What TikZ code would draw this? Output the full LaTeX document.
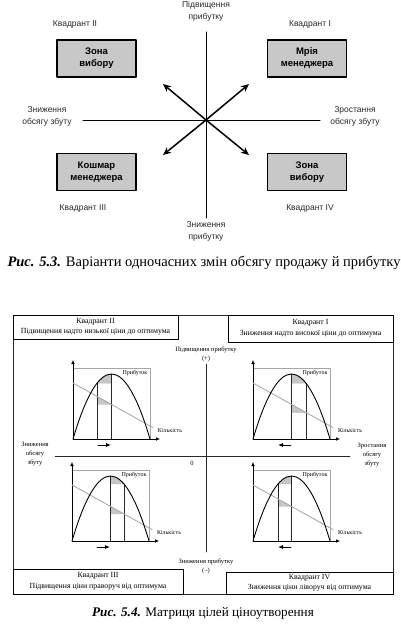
\documentclass[tikz,border=0pt]{standalone}
\usepackage{fontspec}
\setmainfont{Liberation Serif}
\setsansfont{Liberation Sans}
\usetikzlibrary{arrows.meta}
\definecolor{boxgray}{RGB}{200,200,200}
\definecolor{inkgray}{RGB}{40,40,40}

% one small price chart: name, x, y, first line, second line, arrow style
\newcommand{\pricechart}[6]{%
  \begin{scope}[shift={(#2,#3)}]
    \fill[shadearea] (#4,{max(parab(#4),parab(#5))}) -- (#4,{parab(#4)}) -- ({(#4+#5)/2},{parab((#4+#5)/2)}) -- (#5,{parab(#5)}) -- (#5,{max(parab(#4),parab(#5))}) -- cycle;
    \fill[shadearea] (#4,{dem(#4)}) -- (#5,{dem(#5)}) -- (#4,{dem(#5)}) -- cycle;
    \draw[chartframe] (0,0) rectangle (77,71);
    \draw[chartaxis] (0,71) -- (0,-8);
    \draw[chartaxis] (0,71) -- (87,71);
    \draw[chartline] (#4,{parab(#4)}) -- (#4,71);
    \draw[chartline] (#5,{parab(#5)}) -- (#5,71);
    \draw[demandline] (0,{dem(0)}) -- (80,{dem(80)});
    \draw[profitcurve] (0,71) .. controls (25.67,-15.67) and (51.33,-15.67) .. (77,71);
    \draw[#6] (25,77) -- (38,77);
    \node[charttext] (#1prof) at (62,5) {Прибуток};
    \node[charttext] (#1qty) at (97,63) {Кількість};
  \end{scope}}

\begin{document}
\begin{tikzpicture}[x=1pt,y=-1pt,line cap=round,line join=round,
  declare function={parab(\t)=6+65*((\t-38.5)/38.5)*((\t-38.5)/38.5); dem(\t)=15+0.557*\t;},
  toplabel/.style={font=\sffamily\fontsize{8.5}{12}\selectfont,align=center,text=inkgray},
  zonebox/.style={draw,line width=1.1pt,fill=boxgray,minimum width=79pt,minimum height=37pt,
    font=\sffamily\bfseries\fontsize{9.5}{12}\selectfont,align=center},
  axisline/.style={line width=1pt},
  bigarrow/.style={line width=1.5pt,-{Stealth[length=8pt,width=7pt]}},
  caption/.style={font=\fontsize{14}{16}\selectfont},
  frameline/.style={line width=0.5pt,draw=inkgray},
  quadbox/.style={draw,line width=0.9pt,inner sep=0pt,align=center,
    font=\fontsize{7.8}{10.5}\selectfont},
  smalltext/.style={font=\fontsize{6.5}{9}\selectfont,align=center},
  charttext/.style={font=\fontsize{6}{7}\selectfont,inner sep=0pt},
  chartframe/.style={draw=gray!70,line width=0.4pt},
  chartaxis/.style={line width=0.5pt,-{Latex[length=4pt,width=3.5pt]}},
  chartline/.style={line width=0.5pt,draw=inkgray},
  demandline/.style={line width=0.9pt,draw=gray!65},
  profitcurve/.style={line width=0.9pt},
  shadearea/.style={fill=gray!45,draw=gray!60,line width=0.3pt},
  shiftright/.style={line width=0.8pt,-{Latex[length=5pt,width=4pt]}},
  shiftleft/.style={line width=0.8pt,{Latex[length=5pt,width=4pt]}-}]
  \useasboundingbox (0,0) rectangle (400,624);

  % Fig. 5.3
  \coordinate (O) at (206,120);
  \coordinate (vtop) at (206,32);
  \coordinate (vbot) at (206,218);
  \coordinate (hleft) at (83,120);
  \coordinate (hright) at (320,120);
  \coordinate (ne) at (249,84);
  \coordinate (nw) at (163,84);
  \coordinate (sw) at (163,155);
  \coordinate (se) at (249,155);
  \draw[axisline] (vtop) -- (vbot);
  \draw[axisline] (hleft) -- (hright);
  \foreach \c in {ne,nw,sw,se} \draw[bigarrow] (O) -- (\c);
  \node[toplabel] (profup) at (206,11) {Підвищення\\прибутку};
  \node[toplabel] (profdown) at (206,231) {Зниження\\прибутку};
  \node[toplabel] (salesdown) at (47,116) {Зниження\\обсягу збуту};
  \node[toplabel] (salesup) at (355,116) {Зростання\\обсягу збуту};
  \node[toplabel] (quadII) at (75,24) {Квадрант II};
  \node[toplabel] (quadI) at (310,24) {Квадрант I};
  \node[toplabel] (quadIII) at (83,208) {Квадрант III};
  \node[toplabel] (quadIV) at (310,208) {Квадрант IV};
  \node[zonebox] (choicetop) at (96.5,58.5) {Зона\\вибору};
  \node[zonebox] (dream) at (307,58.5) {Мрія\\менеджера};
  \node[zonebox] (nightmare) at (96.5,172) {Кошмар\\менеджера};
  \node[zonebox] (choicebot) at (307,172) {Зона\\вибору};
  \node[caption,font=\fontsize{14.5}{16}\selectfont] (capA) at (204,263) {\textbf{\textit{Рис. 5.3.}} Варіанти одночасних змін обсягу продажу й прибутку};

  % Fig. 5.4
  \draw[frameline] (13,315) rectangle (393,594);
  \node[quadbox,minimum width=165pt,minimum height=24pt] (boxII) at (95.5,327) {Квадрант II\\Підвищення надто низької ціни до оптимума};
  \node[quadbox,minimum width=165pt,minimum height=27pt] (boxI) at (310.5,328.5) {Квадрант I\\Зниження надто високої ціни до оптимума};
  \node[quadbox,minimum width=170pt,minimum height=25pt] (boxIII) at (98,581.5) {Квадрант III\\Підвищення ціни праворуч від оптимума};
  \node[quadbox,minimum width=167pt,minimum height=22pt] (boxIV) at (309.5,583) {Квадрант IV\\Зниження ціни ліворуч від оптимума};
  \coordinate (mvtop) at (206,364);
  \coordinate (mvbot) at (206,552);
  \coordinate (mhleft) at (55,456);
  \coordinate (mhright) at (350,456);
  \draw[chartline] (mvtop) -- (mvbot);
  \draw[chartline] (mhleft) -- (mhright);
  \node[smalltext] (mprofup) at (206,354) {Підвищення прибутку\\(+)};
  \node[smalltext] (mprofdown) at (206,566) {Зниження прибутку\\(--)};
  \node[smalltext] (msalesdown) at (35,454) {Зниження\\обсягу\\збуту};
  \node[smalltext] (msalesup) at (372,455) {Зростання\\обсягу\\збуту};
  \node[smalltext] (zero) at (192,463) {0};
  \pricechart{cII}{73}{368}{24}{38.5}{shiftright}
  \pricechart{cI}{253}{368}{38.5}{53}{shiftleft}
  \pricechart{cIII}{72}{470}{38.5}{52}{shiftright}
  \pricechart{cIV}{253}{470}{25}{38.5}{shiftleft}
  \node[caption,font=\fontsize{13.2}{16}\selectfont] (capB) at (203,613) {\textbf{\textit{Рис. 5.4.}} Матриця цілей ціноутворення};
\end{tikzpicture}
\end{document}
